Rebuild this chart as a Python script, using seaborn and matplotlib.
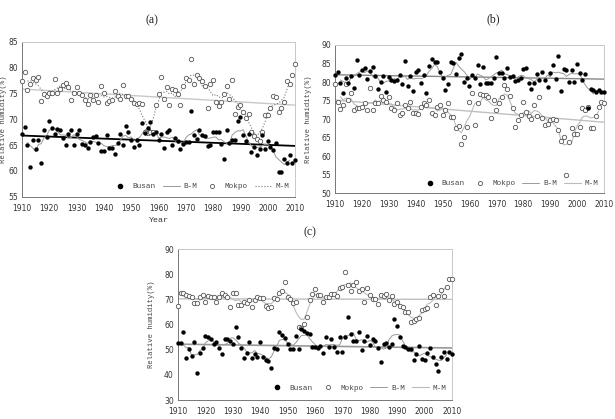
import numpy as np
import pandas as pd
import matplotlib
matplotlib.use("Agg")
import matplotlib.pyplot as plt
import seaborn as sns
from matplotlib.lines import Line2D

years = list(range(1910, 2011))

busan_a = [67.1, 68.5, 65.0, 60.8, 66.0, 64.2, 66.0, 61.5, 67.9, 66.6,
           69.6, 68.3, 67.2, 68.1, 68.0, 66.4, 65.1, 67.1, 67.9, 65.1,
           67.1, 67.9, 65.2, 65.0, 64.4, 65.5, 66.5, 66.7, 65.3, 63.9,
           63.9, 66.9, 64.4, 64.5, 63.3, 65.3, 67.1, 65.0, 68.7, 67.5,
           66.0, 64.7, 66.0, 65.0, 69.2, 67.3, 68.3, 69.5, 67.1, 67.5,
           65.9, 67.1, 64.4, 67.5, 67.9, 65.1, 66.4, 65.7, 64.3, 65.2,
           65.5, 65.5, 71.5, 67.0, 66.2, 68.0, 67.0, 66.8, 64.9, 65.1,
           67.5, 67.5, 67.5, 65.2, 62.2, 67.9, 65.4, 65.9, 65.9, 69.6,
           70.4, 67.0, 65.7, 67.2, 63.7, 64.6, 63.0, 64.3, 66.9, 64.3,
           65.7, 64.6, 64.0, 65.4, 59.8, 59.7, 62.2, 61.5, 63.0, 61.5, 62.1]
mokpo_a = [77.3, 79.2, 75.6, 76.8, 78.0, 77.6, 78.2, 73.6, 74.9, 74.5,
           75.0, 75.1, 77.7, 75.0, 75.8, 76.6, 77.1, 76.2, 73.7, 75.0,
           76.2, 75.0, 74.7, 73.8, 72.9, 74.7, 73.7, 74.7, 73.4, 76.4,
           75.0, 73.2, 73.6, 73.7, 75.5, 74.4, 74.0, 76.6, 74.5, 74.4,
           74.0, 73.2, 72.9, 73.1, 72.9, 67.5, 67.3, 67.6, 67.5, 72.7,
           74.9, 78.2, 74.0, 76.3, 72.7, 75.8, 75.6, 74.9, 72.7, 76.4,
           77.9, 77.6, 81.6, 76.9, 78.6, 77.9, 77.3, 76.5, 72.2, 76.9,
           77.6, 73.4, 72.6, 73.4, 74.8, 76.4, 74.0, 77.6, 71.1, 72.4,
           72.8, 71.3, 70.3, 71.1, 67.6, 66.8, 66.1, 65.7, 67.6, 70.8,
           70.8, 72.2, 74.5, 74.2, 71.3, 72.2, 73.3, 77.3, 76.8, 78.6, 80.6]

busan_b = [81.9, 82.8, 79.7, 77.1, 81.2, 79.8, 81.7, 78.3, 86.0, 81.9,
           83.3, 83.7, 80.7, 83.1, 84.0, 81.6, 78.0, 79.9, 81.7, 77.4,
           81.5, 80.6, 80.3, 80.6, 81.9, 79.4, 85.8, 79.0, 81.6, 77.6,
           82.6, 83.3, 79.7, 81.9, 77.0, 84.3, 86.1, 85.5, 85.3, 82.8,
           81.2, 77.9, 79.4, 85.5, 85.1, 82.2, 86.4, 87.5, 80.1, 81.2,
           78.9, 81.9, 81.0, 84.6, 79.5, 84.0, 79.8, 79.8, 79.8, 81.0,
           86.7, 82.4, 82.4, 81.0, 83.7, 81.5, 81.6, 80.3, 80.6, 81.0,
           83.4, 83.7, 79.7, 78.0, 79.7, 82.2, 80.6, 82.8, 80.6, 78.8,
           82.4, 84.6, 80.7, 87.1, 77.6, 83.4, 83.3, 80.1, 83.3, 80.1,
           84.9, 82.5, 80.6, 82.1, 72.9, 78.0, 77.9, 77.4, 77.9, 77.4, 77.4]
mokpo_b = [79.5, 74.7, 72.7, 73.8, 79.5, 75.3, 77.0, 72.5, 72.9, 72.9,
           73.2, 74.3, 72.5, 78.3, 72.5, 74.4, 74.4, 76.2, 75.2, 74.7,
           76.0, 72.9, 72.5, 74.4, 71.1, 71.6, 73.8, 72.9, 74.7, 71.6,
           71.6, 71.4, 73.4, 74.3, 73.8, 75.3, 71.6, 71.1, 73.4, 73.8,
           71.1, 72.5, 74.4, 70.7, 70.7, 67.5, 68.2, 63.2, 65.1, 67.8,
           74.7, 77.0, 68.4, 74.3, 76.8, 76.5, 76.5, 76.0, 70.2, 75.3,
           72.5, 74.4, 76.0, 79.2, 78.0, 76.3, 72.9, 68.0, 69.8, 71.1,
           74.7, 72.0, 70.9, 70.0, 73.8, 70.9, 76.0, 70.2, 68.4, 68.7,
           69.8, 70.0, 69.8, 67.1, 64.1, 65.3, 54.9, 63.9, 67.7, 66.0,
           66.0, 68.0, 73.1, 72.5, 73.2, 67.5, 67.5, 70.9, 73.2, 74.7, 74.3]

busan_c = [52.5, 52.5, 57.2, 46.6, 50.1, 47.5, 52.9, 40.9, 48.5, 50.5,
           55.4, 55.2, 54.1, 52.3, 53.2, 50.5, 48.3, 54.1, 54.1, 53.4,
           52.3, 58.9, 54.9, 50.5, 46.6, 48.8, 53.2, 46.8, 48.1, 47.0,
           53.2, 47.2, 45.9, 45.6, 42.6, 50.8, 50.3, 57.2, 55.8, 54.5,
           52.3, 50.1, 50.3, 55.4, 50.1, 58.1, 57.4, 56.8, 56.1, 51.2,
           50.9, 50.8, 51.5, 48.8, 54.9, 50.9, 54.1, 50.9, 49.2, 55.2,
           49.2, 55.2, 63.1, 56.2, 53.6, 53.6, 57.2, 49.9, 53.6, 55.4,
           51.9, 54.1, 53.4, 50.5, 45.0, 52.3, 52.5, 50.9, 52.3, 62.1,
           59.4, 54.9, 51.5, 51.2, 50.1, 50.1, 45.9, 48.3, 51.5, 46.2,
           45.9, 48.8, 50.5, 47.2, 44.2, 41.7, 47.2, 48.9, 46.2, 49.2, 48.3]
mokpo_c = [67.5, 72.4, 72.6, 71.7, 71.3, 70.8, 68.7, 68.7, 70.8, 71.7,
           69.1, 71.3, 71.1, 70.8, 69.1, 70.8, 72.4, 71.7, 70.8, 66.8,
           72.6, 72.4, 67.7, 67.7, 69.1, 68.4, 69.7, 66.8, 69.7, 71.1,
           70.4, 70.4, 67.4, 66.4, 67.1, 70.4, 70.0, 72.6, 73.4, 77.0,
           71.1, 70.0, 68.7, 69.1, 59.1, 58.5, 60.2, 63.1, 69.7, 72.1,
           74.0, 71.7, 71.7, 69.1, 70.8, 71.1, 72.1, 72.1, 71.3, 74.4,
           75.0, 81.0, 75.7, 73.3, 75.7, 77.0, 73.4, 74.0, 69.1, 74.4,
           71.7, 70.0, 70.0, 68.1, 71.7, 71.3, 72.1, 69.7, 71.3, 68.1,
           69.1, 67.4, 66.8, 65.1, 65.1, 61.1, 61.4, 62.1, 62.5, 65.8,
           66.0, 66.4, 70.8, 71.7, 67.7, 71.3, 73.7, 71.3, 75.0, 78.0, 78.2]

xticks = list(range(1910, 2011, 10))

sns.set_theme(style="white")
plt.rcParams["font.family"] = ["DejaVu Sans"]

W, H = 615, 419
fig = plt.figure(figsize=(W / 100, H / 100), dpi=100)

MONO = "Liberation Mono"


def rect(l, r, t, b):
    return [l / W, 1 - b / H, (r - l) / W, (b - t) / H]


def panel(box, busan, mokpo, ylim, yticks, title, title_xy, order, mm_ls,
          bt_col, bt_lw, mt_col, bm_col, mm_col, xlabel, leg_anchor,
          ylab_x):
    ax = fig.add_axes(rect(*box))
    df = pd.DataFrame({"Year": years, "Busan": busan, "Mokpo": mokpo})
    df["B-M"] = df["Busan"].rolling(5, center=True).mean()
    df["M-M"] = df["Mokpo"].rolling(5, center=True).mean()

    sns.regplot(data=df, x="Year", y="Mokpo", scatter=False, ci=None, ax=ax,
                line_kws=dict(color=mt_col, lw=1.0, zorder=1))
    sns.regplot(data=df, x="Year", y="Busan", scatter=False, ci=None, ax=ax,
                line_kws=dict(color=bt_col, lw=bt_lw, zorder=1))
    sns.lineplot(data=df, x="Year", y="B-M", ax=ax, color=bm_col, lw=0.7,
                 zorder=2)
    sns.lineplot(data=df, x="Year", y="M-M", ax=ax, color=mm_col, lw=0.8,
                 linestyle=mm_ls, zorder=2)
    sns.scatterplot(data=df, x="Year", y="Mokpo", ax=ax, marker="o", s=10,
                    facecolor="white", edgecolor="#555555", linewidth=0.6,
                    zorder=3, clip_on=False)
    sns.scatterplot(data=df, x="Year", y="Busan", ax=ax, marker="o", s=10,
                    color="black", linewidth=0, zorder=4, clip_on=False)

    ax.set_xlim(1910, 2010)
    ax.set_ylim(*ylim)
    ax.set_xticks(xticks)
    ax.set_yticks(yticks)
    ax.tick_params(axis="both", labelsize=5.5, colors="#333333", width=0.5)
    ax.tick_params(axis="y", length=0, pad=3)
    ax.tick_params(axis="x", direction="in", length=2, pad=5)
    for sp in ["left", "bottom"]:
        ax.spines[sp].set_color("#777777")
        ax.spines[sp].set_linewidth(0.7)
    for sp in ["top", "right"]:
        ax.spines[sp].set_color("#c8c8c8")
        ax.spines[sp].set_linewidth(0.7)
    ax.set_ylabel("Relative humidity(%)", fontsize=5.2, family=MONO,
                  color="#444444")
    ax.yaxis.set_label_coords(ylab_x, 0.5)
    ax.set_xlabel(xlabel, fontsize=6, family=MONO, color="#333333",
                  labelpad=3)
    fig.text(title_xy[0] / W, 1 - title_xy[1] / H, title, ha="center",
             va="center", family="Liberation Serif", fontsize=8.5)

    hd = {
        "Busan": Line2D([], [], marker="o", ls="", color="black", ms=3),
        "Mokpo": Line2D([], [], marker="o", ls="", mfc="white",
                        mec="#555555", mew=0.6, ms=3),
        "B-M": Line2D([], [], color=bm_col, lw=0.7),
        "M-M": Line2D([], [], color=mm_col, lw=0.8, ls=mm_ls),
    }
    leg = ax.legend([hd[k] for k in order], order, loc="center right",
                    bbox_to_anchor=leg_anchor, ncol=4, frameon=False,
                    prop=dict(family=MONO, size=5.5), handlelength=2.2,
                    handletextpad=0.5, columnspacing=0.9, borderaxespad=0)
    for t in leg.get_texts():
        t.set_color("#444444")
    return ax


panel((22, 295, 41.7, 196.7), busan_a, mokpo_a, (55, 85),
      list(range(55, 86, 5)), "(a)", (152, 20),
      ["Busan", "B-M", "Mokpo", "M-M"], ":", "black", 1.3, "#c8c8c8",
      "#999999", "#777777", "Year", (0.99, 0.065), -0.055)

panel((335, 604, 45, 193.3), busan_b, mokpo_b, (50, 90),
      list(range(50, 91, 5)), "(b)", (493, 19),
      ["Busan", "Mokpo", "B-M", "M-M"], "-", "#888888", 1.0, "#c0c0c0",
      "#9a9a9a", "#bbbbbb", "", (0.99, 0.065), -0.085)

panel((178, 452, 249, 400), busan_c, mokpo_c, (30, 90),
      list(range(30, 91, 10)), "(c)", (310, 232),
      ["Busan", "Mokpo", "B-M", "M-M"], "-", "#999999", 1.2, "#c0c0c0",
      "#9a9a9a", "#bbbbbb", "", (0.99, 0.08), -0.084)

fig.savefig("out.png", dpi=100)
